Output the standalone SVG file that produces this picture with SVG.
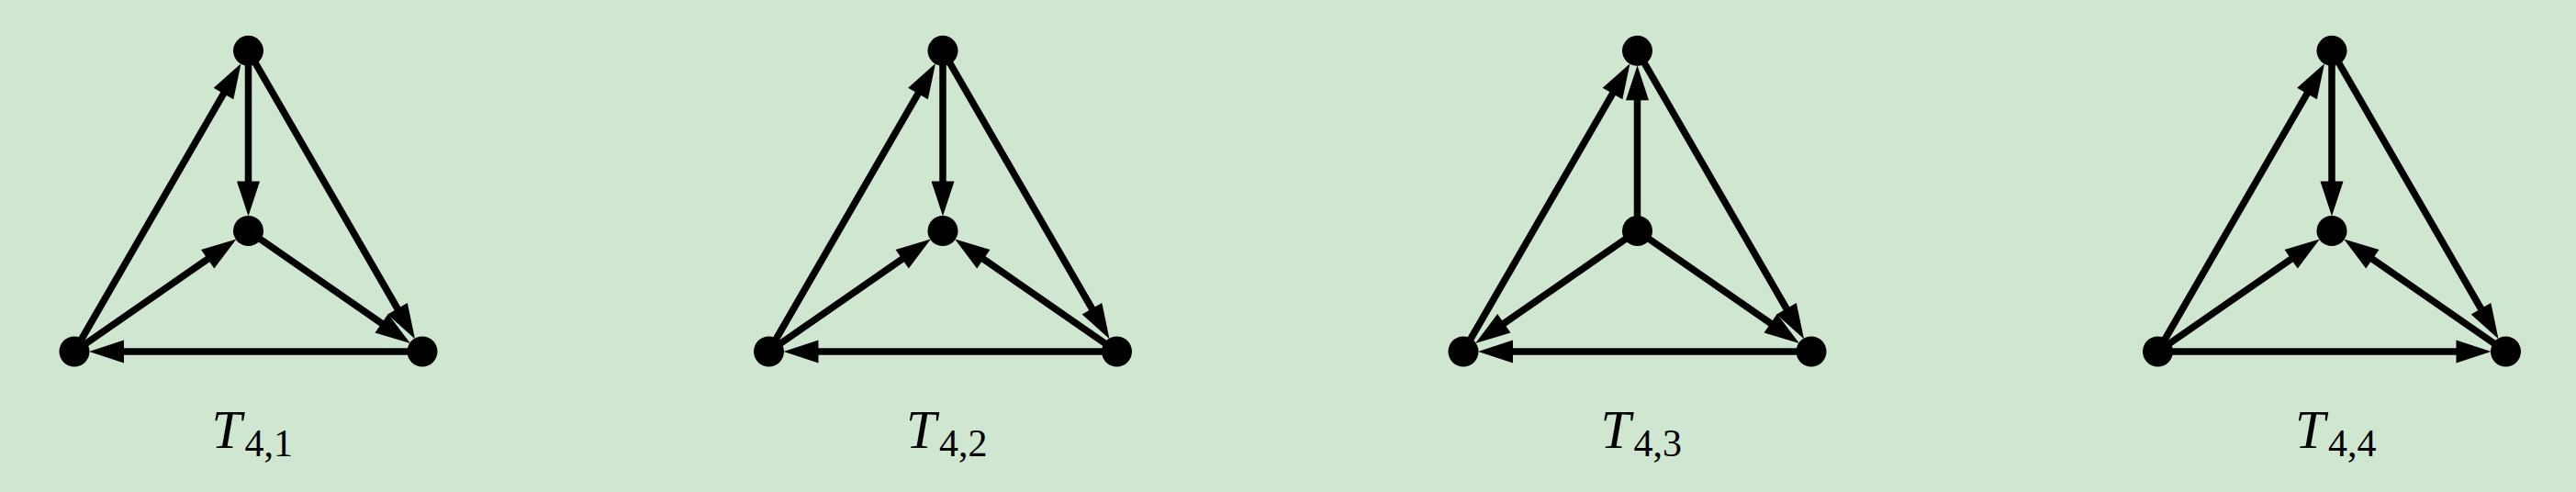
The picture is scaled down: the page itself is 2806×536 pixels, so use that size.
<svg xmlns="http://www.w3.org/2000/svg" width="2806" height="536" viewBox="0 0 2806 536">
<style>
.e{stroke:#000;stroke-width:7.5;fill:none;marker-end:url(#ah)}
.n{fill:#000}
.lb{font-family:"Liberation Serif","Times New Roman",serif;fill:#000}
.lt{font-style:italic;font-size:59px}
.ls{font-size:42px}
</style>
<defs>
<marker id="ah" markerUnits="userSpaceOnUse" orient="auto" refX="0" refY="0" markerWidth="40" markerHeight="30" overflow="visible">
<path d="M-2,-12.5 L36,0 L-2,12.5 z" fill="#000"/>
</marker>
</defs>
<rect width="2806" height="536" fill="#cfe6d0"/>
<g id="connectors">
<line class="e" x1="81" y1="383" x2="244.5" y2="100.3"/>
<line class="e" x1="270.5" y1="55.3" x2="270.5" y2="199.5"/>
<line class="e" x1="270.5" y1="55.3" x2="434" y2="338"/>
<line class="e" x1="81" y1="383" x2="227.8" y2="281.1"/>
<line class="e" x1="270.5" y1="251.5" x2="417.3" y2="353.4"/>
<line class="e" x1="460" y1="383" x2="133" y2="383"/>

<line class="e" x1="837.5" y1="383" x2="1001" y2="100.3"/>
<line class="e" x1="1027" y1="55.3" x2="1027" y2="199.5"/>
<line class="e" x1="1027" y1="55.3" x2="1190.5" y2="338"/>
<line class="e" x1="837.5" y1="383" x2="984.3" y2="281.1"/>
<line class="e" x1="1216.5" y1="383" x2="1069.7" y2="281.1"/>
<line class="e" x1="1216.5" y1="383" x2="889.5" y2="383"/>

<line class="e" x1="1594" y1="383" x2="1757.5" y2="100.3"/>
<line class="e" x1="1783.5" y1="251.5" x2="1783.5" y2="107.3"/>
<line class="e" x1="1783.5" y1="55.3" x2="1947" y2="338"/>
<line class="e" x1="1783.5" y1="251.5" x2="1636.7" y2="353.4"/>
<line class="e" x1="1783.5" y1="251.5" x2="1930.3" y2="353.4"/>
<line class="e" x1="1973" y1="383" x2="1646" y2="383"/>

<line class="e" x1="2350.5" y1="383" x2="2514" y2="100.3"/>
<line class="e" x1="2540" y1="55.3" x2="2540" y2="199.5"/>
<line class="e" x1="2540" y1="55.3" x2="2703.5" y2="338"/>
<line class="e" x1="2350.5" y1="383" x2="2497.3" y2="281.1"/>
<line class="e" x1="2729.5" y1="383" x2="2582.7" y2="281.1"/>
<line class="e" x1="2350.5" y1="383" x2="2677.5" y2="383"/>
</g>
<g id="g1">
<circle id="g1-top" class="n" cx="270.5" cy="55.3" r="16.5"/>
<circle id="g1-mid" class="n" cx="270.5" cy="251.5" r="16.5"/>
<circle id="g1-left" class="n" cx="81" cy="383" r="16.5"/>
<circle id="g1-right" class="n" cx="460" cy="383" r="16.5"/>
<text id="g1-label" class="lb" y="488"><tspan class="lt" x="230.5">T</tspan><tspan class="ls" x="266.5" y="497">4,1</tspan></text>
</g>
<g id="g2">
<circle id="g2-top" class="n" cx="1027" cy="55.3" r="16.5"/>
<circle id="g2-mid" class="n" cx="1027" cy="251.5" r="16.5"/>
<circle id="g2-left" class="n" cx="837.5" cy="383" r="16.5"/>
<circle id="g2-right" class="n" cx="1216.5" cy="383" r="16.5"/>
<text id="g2-label" class="lb" y="488"><tspan class="lt" x="987">T</tspan><tspan class="ls" x="1023" y="497">4,2</tspan></text>
</g>
<g id="g3">
<circle id="g3-top" class="n" cx="1783.5" cy="55.3" r="16.5"/>
<circle id="g3-mid" class="n" cx="1783.5" cy="251.5" r="16.5"/>
<circle id="g3-left" class="n" cx="1594" cy="383" r="16.5"/>
<circle id="g3-right" class="n" cx="1973" cy="383" r="16.5"/>
<text id="g3-label" class="lb" y="488"><tspan class="lt" x="1743.5">T</tspan><tspan class="ls" x="1779.5" y="497">4,3</tspan></text>
</g>
<g id="g4">
<circle id="g4-top" class="n" cx="2540" cy="55.3" r="16.5"/>
<circle id="g4-mid" class="n" cx="2540" cy="251.5" r="16.5"/>
<circle id="g4-left" class="n" cx="2350.5" cy="383" r="16.5"/>
<circle id="g4-right" class="n" cx="2729.5" cy="383" r="16.5"/>
<text id="g4-label" class="lb" y="488"><tspan class="lt" x="2500">T</tspan><tspan class="ls" x="2536" y="497">4,4</tspan></text>
</g>
</svg>
